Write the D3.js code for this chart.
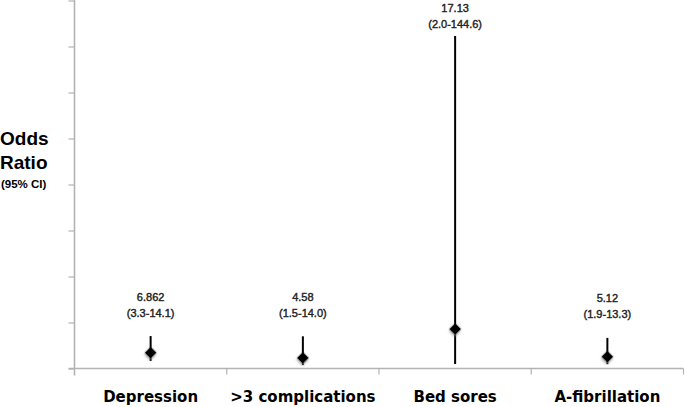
<!DOCTYPE html>
<html>
<head>
<meta charset="utf-8">
<script src="https://cdn.jsdelivr.net/npm/d3@7"></script>
<style>
  html, body { margin: 0; padding: 0; background: #fff; }
  svg { display: block; }
</style>
</head>
<body>
<svg id="chart" width="685" height="407"></svg>
<script>
// ---- data ----
const categories = ["Depression", ">3 complications", "Bed sores", "A-fibrillation"];
const oddsRatio  = [6.862, 4.58, 17.13, 5.12];
const ciLower    = [3.3, 1.5, 2.0, 1.9];
const ciUpper    = [14.1, 14.0, 144.6, 13.3];
const valueLabels = ["6.862", "4.58", "17.13", "5.12"];
const ciLabels    = ["(3.3-14.1)", "(1.5-14.0)", "(2.0-144.6)", "(1.9-13.3)"];
const yTicks = [0, 20, 40, 60, 80, 100, 120, 140, 160];

(function () {
// ---- layout ----
const mLeft = 74.5, mRight = 683.5, mTop = 0.5, mBottom = 368.5;

const svg = d3.select("#chart");

const defs = svg.append("defs");
const f = defs.append("filter").attr("id", "shadow")
  .attr("x", "-50%").attr("y", "-50%").attr("width", "200%").attr("height", "200%");
f.append("feDropShadow").attr("dx", 1).attr("dy", 1.5).attr("stdDeviation", 1)
  .attr("flood-color", "#888").attr("flood-opacity", 0.7);

const x = d3.scaleBand().domain(categories).range([mLeft, mRight]).paddingInner(0).paddingOuter(0);
const y = d3.scaleLinear().domain([0, 160]).range([mBottom, mTop]);

const axisColor = "#b3b3b3";

// y axis (no labels, ticks pointing left)
const yAxis = svg.append("g").attr("transform", `translate(${mLeft},0)`)
  .call(d3.axisLeft(y).tickValues(yTicks).tickSize(6).tickFormat(""));
yAxis.select(".domain").remove();
yAxis.selectAll("line").attr("stroke", axisColor).attr("stroke-width", 1.2);
svg.append("line").attr("x1", mLeft).attr("x2", mLeft).attr("y1", 0).attr("y2", mBottom + 7)
  .attr("stroke", axisColor).attr("stroke-width", 1.6);

// x axis
svg.append("line").attr("x1", mLeft - 6).attr("x2", mRight).attr("y1", mBottom).attr("y2", mBottom)
  .attr("stroke", axisColor).attr("stroke-width", 1.6);
const boundaries = categories.slice(1).map(c => x(c)).concat([x(categories[categories.length - 1]) + x.bandwidth()]);
svg.append("g").selectAll("line").data(boundaries).join("line")
  .attr("x1", d => d).attr("x2", d => d)
  .attr("y1", mBottom).attr("y2", mBottom + 6)
  .attr("stroke", axisColor).attr("stroke-width", 1.2);

// category labels
svg.append("g").selectAll("text").data(categories).join("text")
  .attr("x", d => x(d) + x.bandwidth() / 2)
  .attr("y", 402)
  .attr("text-anchor", "middle")
  .attr("font-family", "'DejaVu Sans', sans-serif")
  .attr("font-weight", "bold")
  .attr("font-size", "15px")
  .attr("fill", "#000")
  .text(d => d);

// whiskers
const g = svg.append("g");
categories.forEach((c, i) => {
  const cx = x(c) + x.bandwidth() / 2;
  g.append("line")
    .attr("x1", cx).attr("x2", cx)
    .attr("y1", y(ciLower[i])).attr("y2", y(ciUpper[i]))
    .attr("stroke", "#000").attr("stroke-width", 2);
  g.append("path")
    .attr("d", d3.symbol(d3.symbolSquare, 72)())
    .attr("transform", `translate(${cx},${y(oddsRatio[i])}) rotate(45)`)
    .attr("fill", "#000")
    .attr("filter", "url(#shadow)");
  const ly = Math.max(y(ciUpper[i]) - 23.5, 24);
  g.append("text")
    .attr("x", cx).attr("y", ly - 16 + 4)
    .attr("text-anchor", "middle")
    .attr("font-family", "'Liberation Sans', Arial, sans-serif")
    .attr("font-size", "11px")
    .attr("fill", "#222")
    .attr("stroke", "#222").attr("stroke-width", 0.4)
    .text(valueLabels[i]);
  g.append("text")
    .attr("x", cx).attr("y", ly + 4)
    .attr("text-anchor", "middle")
    .attr("font-family", "'Liberation Sans', Arial, sans-serif")
    .attr("font-size", "11px")
    .attr("fill", "#222")
    .attr("stroke", "#222").attr("stroke-width", 0.4)
    .text(ciLabels[i]);
});

// y axis title
const t = svg.append("g").attr("font-family", "'Liberation Sans', Arial, sans-serif")
  .attr("font-weight", "bold").attr("fill", "#000");
t.append("text").attr("x", 0).attr("y", 145).attr("font-size", "19px").text("Odds");
t.append("text").attr("x", 0).attr("y", 169).attr("font-size", "19px").text("Ratio");
t.append("text").attr("x", 1).attr("y", 188).attr("font-size", "11.5px").text("(95% CI)");
})();
</script>
</body>
</html>
